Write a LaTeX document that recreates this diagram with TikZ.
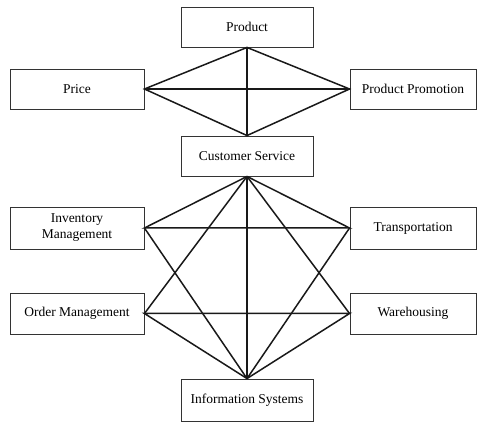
\documentclass[tikz,border=0pt]{standalone}
\usepackage{fontspec}
\setmainfont{Liberation Serif}
\begin{document}
\begin{tikzpicture}[x=1pt,y=-1pt,
  box/.style={draw=black!80,line width=0.9pt,fill=white,inner sep=0pt,
    font=\fontsize{13.5}{16}\selectfont,align=center},
  link/.style={line width=1.5pt,black!90}]
\useasboundingbox (0,0) rectangle (477,422);
% boxes: centre, width, height
\node[box,minimum width=132pt,minimum height=40pt] (prod) at (247,27) {Product};
\node[box,minimum width=134pt,minimum height=40pt] (price) at (77,89) {Price};
\node[box,minimum width=126pt,minimum height=40pt] (promo) at (413,89) {Product Promotion};
\node[box,minimum width=132pt,minimum height=40pt] (cs) at (247,156) {Customer Service};
\node[box,minimum width=134pt,minimum height=42pt] (inv) at (77,228) {Inventory\\Management};
\node[box,minimum width=126pt,minimum height=42pt] (trans) at (413,228) {Transportation};
\node[box,minimum width=134pt,minimum height=41pt] (order) at (77,313.5) {Order Management};
\node[box,minimum width=126pt,minimum height=41pt] (ware) at (413,313.5) {Warehousing};
\node[box,minimum width=132pt,minimum height=42pt] (is) at (247,400) {Information Systems};
% marketing diamond
\draw[link] (prod.south) -- (price.east) -- (cs.north) -- (promo.west) -- cycle;
\draw[link] (prod.south) -- (cs.north);
\draw[link] (price.east) -- (promo.west);
% logistics network
\draw[link] (cs.south) -- (inv.east) -- (trans.west) -- (cs.south);
\draw[link] (is.north) -- (order.east) -- (ware.west) -- (is.north);
\draw[link] (cs.south) -- (is.north);
\draw[link] (cs.south) -- (order.east);
\draw[link] (cs.south) -- (ware.west);
\draw[link] (is.north) -- (inv.east);
\draw[link] (is.north) -- (trans.west);
\end{tikzpicture}
\end{document}
